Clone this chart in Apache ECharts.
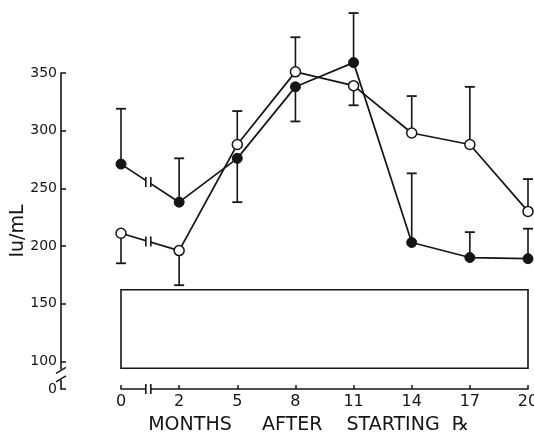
<!DOCTYPE html>
<html>
<head>
<meta charset="utf-8">
<script src="https://cdn.jsdelivr.net/npm/echarts@6/dist/echarts.min.js"></script>
<style>
  html, body { margin: 0; padding: 0; background: #ffffff; }
  #chart { width: 534px; height: 436px; }
</style>
</head>
<body>
<div id="chart"></div>
<script>
// Months after starting treatment (axis break between 0 and 2)
const months = ['0', '2', '5', '8', '11', '14', '17', '20'];

// Filled circles: mean and end of the one-sided error bar (IU/mL)
const filledMean   = [271, 238, 276, 338, 359, 203, 190, 189];
const filledErrEnd = [319, 276, 238, 308, 402, 263, 212, 215];

// Open circles: mean and end of the one-sided error bar (IU/mL)
const openMean   = [211, 196, 288, 351, 339, 298, 288, 230];
const openErrEnd = [185, 166, 317, 381, 322, 330, 338, 258];

// Y axis ticks; the bottom tick stands for 0 below the axis break
const yTicks = [100, 150, 200, 250, 300, 350];
const yFloor = 76;
const yFloorLabel = '0';

// Normal range band
const normalRange = [94, 162];

const INK = '#151515';
const FONT = 'DejaVu Sans';
const Y_OFFSET = 60;
const BREAK_T = 0.47;

function errorBars(mean, errEnd) {
  return {
    type: 'custom',
    z: 1,
    clip: false,
    silent: true,
    data: months.map((m, i) => [i, mean[i], errEnd[i]]),
    encode: { x: 0, y: 1 },
    renderItem(params, api) {
      const i = api.value(0);
      const p0 = api.coord([i, api.value(1)]);
      const p1 = api.coord([i, api.value(2)]);
      const cap = 5;
      return {
        type: 'group',
        children: [
          { type: 'line', shape: { x1: p0[0], y1: p0[1], x2: p1[0], y2: p1[1] },
            style: { stroke: INK, lineWidth: 1.6 } },
          { type: 'line', shape: { x1: p1[0] - cap, y1: p1[1], x2: p1[0] + cap, y2: p1[1] },
            style: { stroke: INK, lineWidth: 1.8 } }
        ]
      };
    }
  };
}

// "||" break drawn on the segment between the first two months
function breakMark(x, y, half) {
  return [
    { type: 'rect', shape: { x: x - 2.5, y: y - half - 1, width: 5, height: 2 * half + 2 },
      style: { fill: '#ffffff' } },
    { type: 'line', shape: { x1: x - 2.5, y1: y - half, x2: x - 2.5, y2: y + half },
      style: { stroke: INK, lineWidth: 1.6 } },
    { type: 'line', shape: { x1: x + 2.5, y1: y - half, x2: x + 2.5, y2: y + half },
      style: { stroke: INK, lineWidth: 1.6 } }
  ];
}

const lineBreaks = {
  type: 'custom',
  z: 5,
  clip: false,
  silent: true,
  data: [[0, filledMean[0], filledMean[1]], [0, openMean[0], openMean[1]]],
  encode: { x: 0, y: 1 },
  renderItem(params, api) {
    const a = api.coord([0, api.value(1)]);
    const b = api.coord([1, api.value(2)]);
    const x = a[0] + (b[0] - a[0]) * BREAK_T;
    const y = a[1] + (b[1] - a[1]) * BREAK_T;
    return { type: 'group', children: breakMark(x, y, 5) };
  }
};

// Breaks on the two axes
const axisBreaks = {
  type: 'custom',
  z: 5,
  clip: false,
  silent: true,
  data: [[0, yFloor]],
  encode: { x: 0, y: 1 },
  renderItem(params, api) {
    const a = api.coord([0, yFloor]);
    const b = api.coord([1, yFloor]);
    const xb = a[0] + (b[0] - a[0]) * BREAK_T;
    const children = breakMark(xb, a[1], 5);
    // y axis: "//" between 100 and 0
    const ax = a[0] - Y_OFFSET;
    const yTop = api.coord([0, 93])[1];
    const yBot = api.coord([0, 84])[1];
    children.push(
      { type: 'rect', shape: { x: ax - 2, y: yTop, width: 4, height: yBot - yTop },
        style: { fill: '#ffffff' } },
      { type: 'line', shape: { x1: ax - 5, y1: yTop + 4, x2: ax + 5, y2: yTop - 2 },
        style: { stroke: INK, lineWidth: 1.5 } },
      { type: 'line', shape: { x1: ax - 5, y1: yBot + 2, x2: ax + 5, y2: yBot - 4 },
        style: { stroke: INK, lineWidth: 1.5 } }
    );
    return { type: 'group', children };
  }
};

const chart = echarts.init(document.getElementById('chart'), null, { renderer: 'canvas' });

chart.setOption({
  backgroundColor: '#ffffff',
  animation: false,
  grid: { left: 121, right: 6, top: 73, bottom: 47, outerBoundsMode: 'none', containLabel: false },
  xAxis: {
    type: 'category',
    data: months,
    boundaryGap: false,
    name: 'MONTHS     AFTER    STARTING  ℞',
    nameLocation: 'middle',
    nameGap: 27,
    nameMoveOverlap: false,
    nameTextStyle: { fontFamily: FONT, fontSize: 19, color: INK, padding: [0, 32, 0, 0] },
    axisLine: { lineStyle: { color: INK, width: 1.6 } },
    axisTick: { inside: true, length: 4, alignWithLabel: true, lineStyle: { color: INK, width: 1.5 } },
    axisLabel: { fontFamily: FONT, fontSize: 16, color: INK, margin: 5 },
    splitLine: { show: false }
  },
  yAxis: {
    type: 'value',
    min: yFloor,
    max: 350,
    offset: Y_OFFSET,
    name: 'Iu/mL',
    nameLocation: 'middle',
    nameRotate: 90,
    nameGap: 33,
    nameMoveOverlap: false,
    nameTextStyle: { fontFamily: FONT, fontSize: 19, color: INK },
    axisLine: { show: true, lineStyle: { color: INK, width: 1.6 } },
    axisTick: { show: true, inside: true, length: 5, customValues: [yFloor].concat(yTicks),
                lineStyle: { color: INK, width: 1.5 } },
    axisLabel: {
      fontFamily: FONT, fontSize: 14, color: INK, margin: 4,
      customValues: [yFloor].concat(yTicks),
      formatter: v => (v === yFloor ? yFloorLabel : String(v))
    },
    splitLine: { show: false }
  },
  series: [
    errorBars(filledMean, filledErrEnd),
    errorBars(openMean, openErrEnd),
    {
      type: 'line',
      name: 'filled',
      data: filledMean,
      clip: false,
      z: 3,
      symbol: 'circle',
      symbolSize: 10,
      itemStyle: { color: INK, borderColor: INK, borderWidth: 1 },
      lineStyle: { color: INK, width: 1.7 },
      markArea: {
        silent: true,
        itemStyle: { color: 'rgba(0,0,0,0)', borderColor: INK, borderWidth: 1.6 },
        data: [[{ xAxis: months[0], yAxis: normalRange[0] },
                { xAxis: months[months.length - 1], yAxis: normalRange[1] }]]
      }
    },
    {
      type: 'line',
      name: 'open',
      data: openMean,
      clip: false,
      z: 4,
      symbol: 'circle',
      symbolSize: 10,
      itemStyle: { color: '#ffffff', borderColor: INK, borderWidth: 1.5 },
      lineStyle: { color: INK, width: 1.7 }
    },
    lineBreaks,
    axisBreaks
  ]
});
</script>
</body>
</html>
